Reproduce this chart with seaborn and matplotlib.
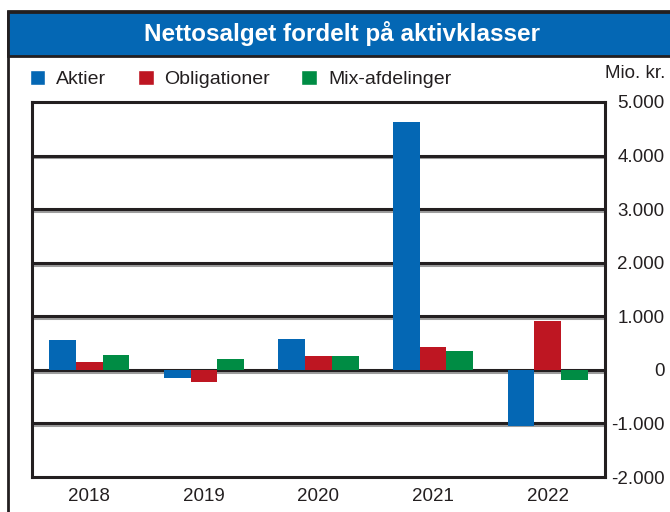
import matplotlib
matplotlib.use("Agg")
import matplotlib.pyplot as plt
import matplotlib.patheffects as pe
from matplotlib.patches import Rectangle
import seaborn as sns
import pandas as pd

years = ["2018", "2019", "2020", "2021", "2022"]
aktier = [565, -160, 570, 4620, -1050]
obligationer = [140, -235, 255, 420, 920]
mix = [285, 210, 255, 345, -185]
series_names = ["Aktier", "Obligationer", "Mix-afdelinger"]
colors = ["#0467B4", "#BE1622", "#008C44"]
yticks = [-2000, -1000, 0, 1000, 2000, 3000, 4000, 5000]
ytick_labels = ["-2.000", "-1.000", "0", "1.000", "2.000", "3.000", "4.000", "5.000"]

df = pd.DataFrame({
    "year": years * 3,
    "klasse": [series_names[0]] * 5 + [series_names[1]] * 5 + [series_names[2]] * 5,
    "value": aktier + obligationer + mix,
})

sns.set_style("white")
plt.rcParams["font.family"] = ["Liberation Sans", "DejaVu Sans"]

W, H = 670, 512
fig = plt.figure(figsize=(W / 100, H / 100), dpi=100)

# outer frame and title bar
fig.patches.append(Rectangle((8 / W, -0.1), 1.2, (H - 11) / H + 0.1, transform=fig.transFigure,
                             facecolor="white", edgecolor="#231f20", lw=2, zorder=-3))
fig.patches.append(Rectangle((8 / W, (H - 56) / H), 1.2, 44 / H, transform=fig.transFigure,
                             facecolor="#0467B4", edgecolor="#231f20", lw=2, zorder=-2))
fig.text(342 / W, (H - 34) / H, "Nettosalget fordelt på aktivklasser", color="white",
         fontsize=17.5, fontweight="bold", ha="center", va="center")

ax = fig.add_axes([32 / W, (H - 477) / H, 573 / W, 375 / H])
ax.set_facecolor("white")
sns.barplot(data=df, x="year", y="value", hue="klasse", palette=colors, width=0.7,
            saturation=1, errorbar=None, ax=ax, zorder=3, legend=False, linewidth=0)

ax.set_xlim(-0.5, 4.5)
ax.set_ylim(-2000, 5000)
ax.set_yticks(yticks)
ax.set_yticklabels(ytick_labels)
ax.yaxis.tick_right()
shadow = [pe.SimpleLineShadow(offset=(0, -1.3), shadow_color="#9d9d9d", alpha=1), pe.Normal()]
for y in yticks[1:-1]:
    ax.axhline(y, color="#231f20", lw=2.2, zorder=1, path_effects=shadow)
ax.tick_params(axis="y", length=0, pad=43, labelsize=13.5, colors="#231f20")
for lab in ax.get_yticklabels():
    lab.set_ha("right")
ax.tick_params(axis="x", length=0, pad=8, labelsize=13.5, colors="#231f20")
ax.set_xlabel("")
ax.set_ylabel("")
for s in ax.spines.values():
    s.set_color("#231f20")
    s.set_linewidth(2.2)

fig.text(665 / W, (H - 73) / H, "Mio. kr.", fontsize=13.5, ha="right", va="center", color="#231f20")

handles = [Rectangle((0, 0), 1, 1, facecolor=c) for c in colors]
fig.legend(handles, series_names, loc="center left", bbox_to_anchor=(12 / W, (H - 79) / H),
           ncol=3, frameon=False, fontsize=14, handlelength=0.82, handleheight=0.78,
           handletextpad=0.56, columnspacing=1.6, labelcolor="#231f20")

fig.savefig("out.png", dpi=100)
